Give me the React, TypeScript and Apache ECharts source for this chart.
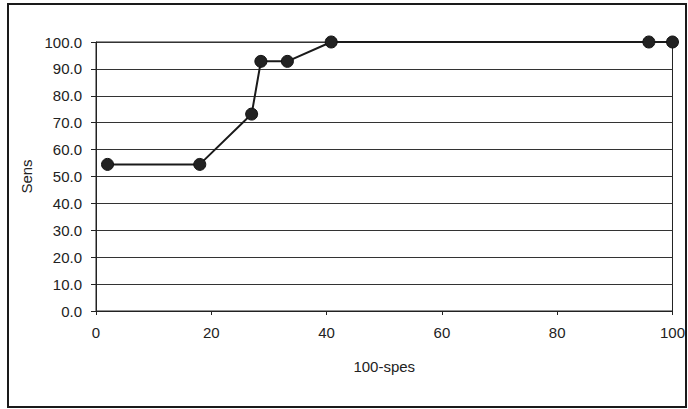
import React, { useEffect, useRef } from "react";
import * as echarts from "echarts";

const xValues = [2, 18, 27, 28.6, 33.2, 40.8, 95.9, 100];
const sensValues = [54.5, 54.5, 73.2, 92.8, 92.8, 100, 100, 100];
const xTitle = "100-spes";
const yTitle = "Sens";

export default function App() {
  const ref = useRef<HTMLDivElement>(null);
  useEffect(() => {
    if (!ref.current) return;
    const chart = echarts.init(ref.current, null, { renderer: "svg" });
    const font = "'Liberation Sans', Arial, sans-serif";
    chart.setOption({
      animation: false,
      backgroundColor: "#ffffff",
      graphic: [
        {
          type: "rect",
          shape: { x: 8, y: 4, width: 678, height: 403 },
          style: { fill: "none", stroke: "#1a1a1a", lineWidth: 2 },
          silent: true,
        },
      ],
      grid: {
        left: 96,
        right: 15,
        top: 42,
        bottom: 98,
        show: true,
        borderColor: "#222",
        borderWidth: 1,
        backgroundColor: "transparent",
      },
      xAxis: {
        type: "value",
        min: 0,
        max: 100,
        interval: 20,
        name: xTitle,
        nameLocation: "middle",
        nameGap: 48,
        nameTextStyle: { fontFamily: font, fontSize: 15, color: "#222" },
        axisLine: { show: true, onZero: false, lineStyle: { color: "#222", width: 1 } },
        axisTick: { show: true, length: 4, lineStyle: { color: "#222" } },
        axisLabel: { fontFamily: font, fontSize: 15, color: "#222", margin: 14 },
        splitLine: { show: false },
      },
      yAxis: {
        type: "value",
        min: 0,
        max: 100,
        interval: 10,
        name: yTitle,
        nameLocation: "middle",
        nameGap: 62,
        nameTextStyle: { fontFamily: font, fontSize: 15, color: "#222" },
        axisLine: { show: true, lineStyle: { color: "#222", width: 1 } },
        axisTick: { show: true, length: 5, lineStyle: { color: "#222" } },
        axisLabel: {
          fontFamily: font,
          fontSize: 15,
          color: "#222",
          margin: 14,
          formatter: (v: number) => v.toFixed(1),
        },
        splitLine: { show: true, lineStyle: { color: "#333", width: 1 } },
      },
      series: [
        {
          type: "line",
          data: xValues.map((x, i) => [x, sensValues[i]]),
          symbol: "circle",
          symbolSize: 12,
          lineStyle: { color: "#1a1a1a", width: 2 },
          itemStyle: { color: "#222", borderColor: "#111", borderWidth: 1 },
          clip: false,
        },
      ],
    });
    return () => chart.dispose();
  }, []);
  return <div ref={ref} style={{ width: 688, height: 409, position: "absolute", left: 0, top: 0 }} />;
}
